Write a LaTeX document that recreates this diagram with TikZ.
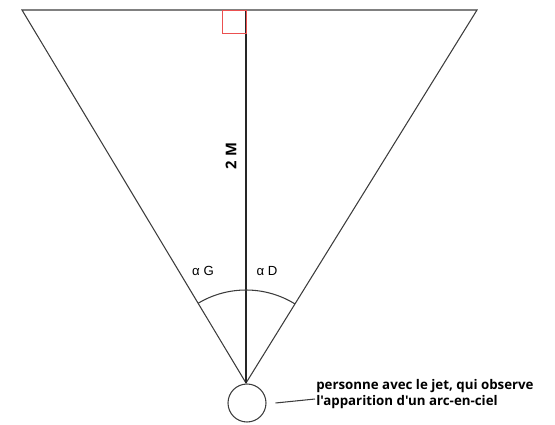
\documentclass[tikz,border=0pt]{standalone}
\usepackage{fontspec}
\setmainfont{Liberation Sans}
\newfontfamily\labelfont{Open Sans}
\usetikzlibrary{calc,positioning}
\definecolor{linegray}{RGB}{60, 60, 60}
\definecolor{squarered}{RGB}{235, 80, 80}

\begin{document}
\begin{tikzpicture}[x=0.0333cm, y=-0.0333cm, every node/.style={font=\fontsize{12.5}{15}\selectfont}]
    \useasboundingbox (0,0) rectangle (555,425);

    % Corners of the triangle
    \coordinate (topleft) at (22,10);
    \coordinate (topright) at (477,10);
    \coordinate (topmid) at (246,10);
    \coordinate (apex) at (246,383);

    % Triangle and height
    \draw[linegray, line width=1pt] (topleft) -- (topright) -- (apex) -- cycle;
    \draw[black!85, line width=1.2pt] (topmid) -- (apex);

    % Right angle
    \draw[squarered, line width=0.7pt] (222,10) rectangle (246,33);

    % Height label
    \node[rotate=90, font=\labelfont\bfseries\fontsize{14}{16}\selectfont] (height) at (231,156) {2 M};

    % Angle
    \draw[linegray, line width=1pt] (apex) ++(-121:93) arc[start angle=-121, end angle=-58.2, radius=93];
    \node (alphaG) at (203,271) {α G};
    \node (alphaD) at (267,271) {α D};

    % Person
    \node[draw=linegray, line width=1pt, circle, minimum size=38*0.0333cm, inner sep=0pt] (person) at (247,403) {};
    \node[anchor=west, align=left, font=\labelfont\bfseries\fontsize{12.6}{16}\selectfont, inner sep=1pt] (note) at (315,394)
        {personne avec le jet, qui observe\\l'apparition d'un arc-en-ciel};
    \draw[linegray, line width=1pt] ($(person.east)+(9,0)$) -- ($(note.west)+(0,5)$);
\end{tikzpicture}
\end{document}
